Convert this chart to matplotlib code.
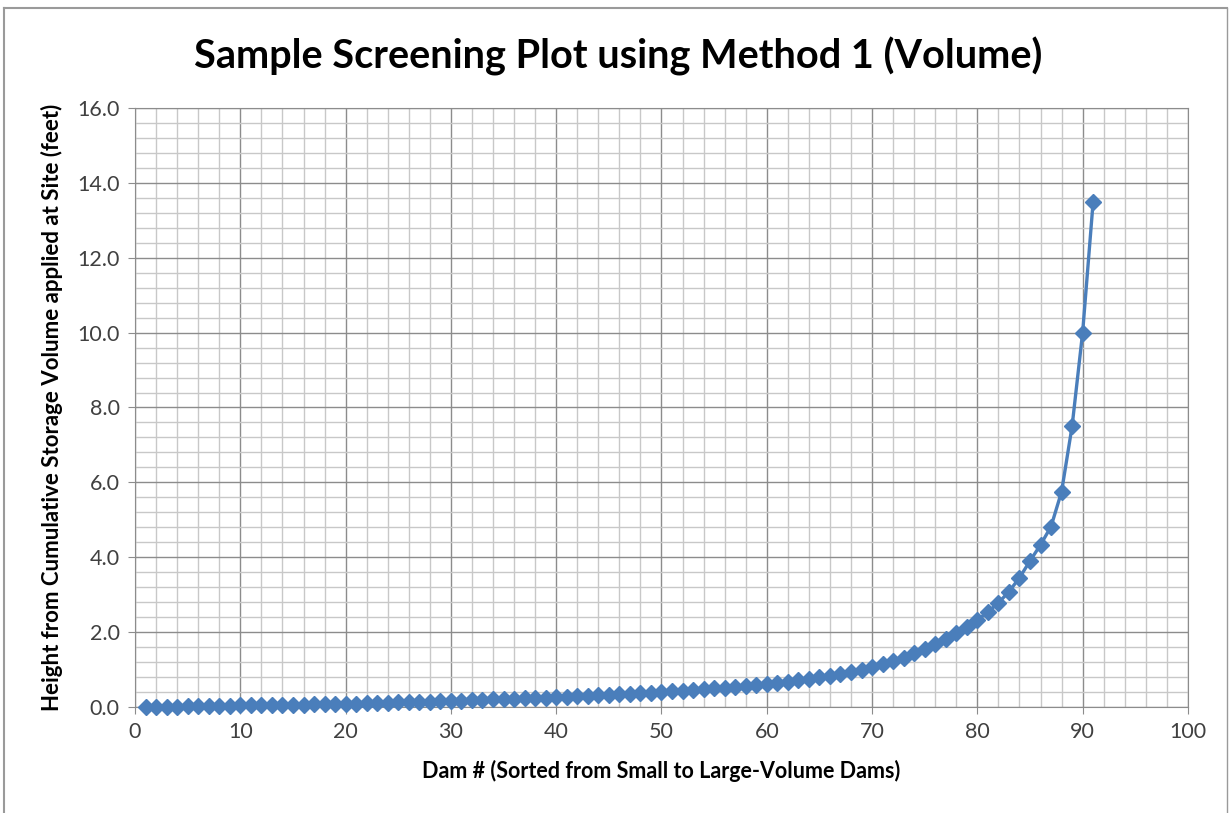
import numpy as np
import matplotlib.pyplot as plt
from matplotlib.ticker import MultipleLocator
from matplotlib.lines import Line2D

# Datos
dam_no = list(range(1, 92))
height_ft = [
    0.00, 0.00, 0.01, 0.01, 0.02, 0.02, 0.02, 0.03, 0.03, 0.04,
    0.04, 0.05, 0.05, 0.05, 0.06, 0.06, 0.07, 0.07, 0.08, 0.09,
    0.09, 0.10, 0.10, 0.11, 0.12, 0.12, 0.13, 0.14, 0.15, 0.16,
    0.17, 0.18, 0.19, 0.20, 0.21, 0.22, 0.23, 0.24, 0.25, 0.27,
    0.28, 0.29, 0.30, 0.31, 0.33, 0.34, 0.35, 0.37, 0.38, 0.40,
    0.42, 0.44, 0.46, 0.48, 0.50, 0.52, 0.54, 0.56, 0.59, 0.62,
    0.65, 0.68, 0.71, 0.75, 0.79, 0.83, 0.88, 0.93, 0.99, 1.06,
    1.14, 1.23, 1.32, 1.43, 1.55, 1.68, 1.82, 1.97, 2.13, 2.32,
    2.54, 2.78, 3.08, 3.45, 3.90, 4.33, 4.82, 5.75, 7.50, 10.00,
    13.50,
]

plt.rcParams['font.family'] = ['Lato', 'DejaVu Sans']

fig = plt.figure(figsize=(12.31, 8.13), dpi=100)
ax = fig.add_axes([0.1097, 0.1304, 0.8553, 0.7368])

ax.plot(dam_no, height_ft, color='#4A7EBB', lw=2.4, marker='D',
        markersize=8.5, markeredgecolor='#4A7EBB', zorder=3, clip_on=False)

ax.set_xlim(0, 100)
ax.set_ylim(0, 16)
ax.xaxis.set_major_locator(MultipleLocator(10))
ax.xaxis.set_minor_locator(MultipleLocator(2))
ax.yaxis.set_major_locator(MultipleLocator(2))
ax.yaxis.set_minor_locator(MultipleLocator(0.4))
ax.yaxis.set_major_formatter(plt.FormatStrFormatter('%.1f'))

ax.grid(which='major', color='#8c8c8c', lw=1.0)
ax.grid(which='minor', color='#c8c8c8', lw=1.0)
ax.set_axisbelow(True)

for s in ['top', 'right', 'left', 'bottom']:
    ax.spines[s].set_color('#8c8c8c')

ax.tick_params(which='major', length=5, color='#8c8c8c', labelsize=15.5,
               labelcolor='#404040', pad=6)
ax.tick_params(which='minor', length=0)

ax.set_xlabel('Dam # (Sorted from Small to Large-Volume Dams)', fontsize=15.5,
              fontweight='bold', labelpad=13)
ax.set_ylabel('Height from Cumulative Storage Volume applied at Site (feet)',
              fontsize=16, fontweight='bold', labelpad=10)
fig.suptitle('Sample Screening Plot using Method 1 (Volume)', fontsize=28.5,
             fontweight='bold', x=0.502, y=0.955)

# marco exterior del grafico
fig.add_artist(Line2D([0.003, 0.997], [0.99, 0.99], color='#9a9a9a', lw=1.5))
fig.add_artist(Line2D([0.003, 0.003], [0.0, 0.99], color='#9a9a9a', lw=1.5))
fig.add_artist(Line2D([0.997, 0.997], [0.0, 0.99], color='#9a9a9a', lw=1.0))

plt.savefig('out.png', dpi=100)
